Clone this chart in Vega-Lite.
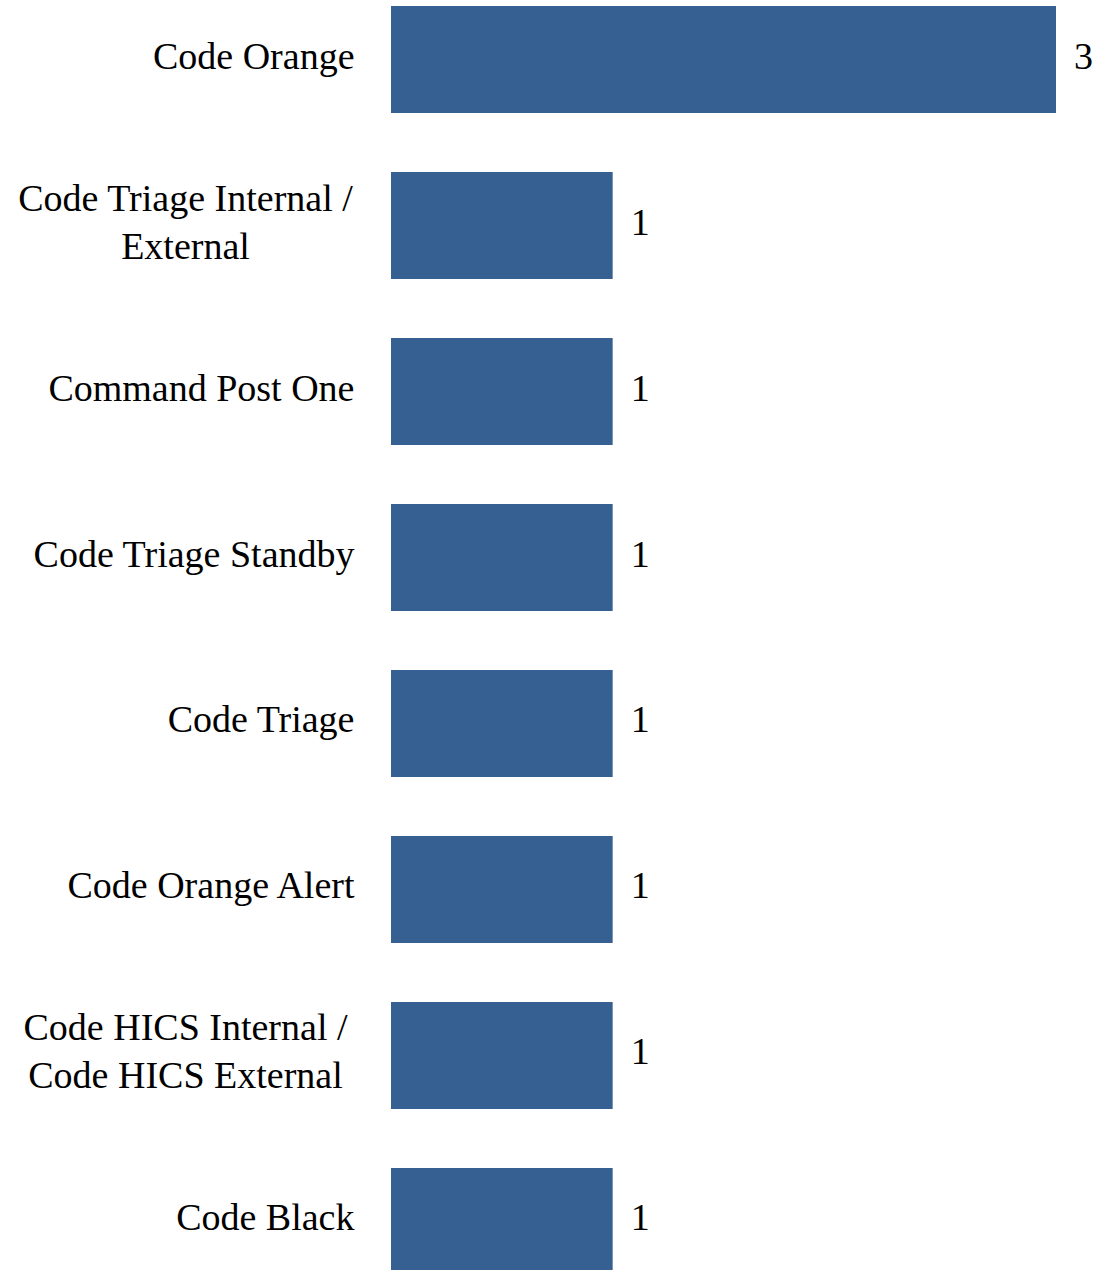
{
  "$schema": "https://vega.github.io/schema/vega-lite/v6.json",
  "autosize": {"type": "none"},
  "padding": {"left": 391, "top": 0, "right": 41, "bottom": 0},
  "width": 665,
  "height": 1281,
  "background": "white",
  "data": {
    "values": [
      {"label": "Code Orange", "count": 3},
      {"label": "Code Triage Internal /|External", "count": 1},
      {"label": "Command Post One", "count": 1},
      {"label": "Code Triage Standby", "count": 1},
      {"label": "Code Triage", "count": 1},
      {"label": "Code Orange Alert", "count": 1},
      {"label": "Code HICS Internal /|Code HICS External", "count": 1},
      {"label": "Code Black", "count": 1}
    ]
  },
  "encoding": {
    "y": {
      "field": "label",
      "type": "nominal",
      "sort": null,
      "scale": {"paddingInner": 0.355, "paddingOuter": 0.036},
      "axis": {
        "title": null,
        "domain": false,
        "ticks": false,
        "labelPadding": {"condition": {"test": "indexof(datum.value, '|') >= 0", "value": 206}, "value": 37},
        "labelAlign": {"condition": {"test": "indexof(datum.value, '|') >= 0", "value": "center"}, "value": "right"},
        "labelOffset": {"condition": {"test": "indexof(datum.value, '|') >= 0", "value": -26}, "value": -2},
        "labelFont": "Liberation Serif",
        "labelFontSize": 38,
        "labelColor": "black",
        "labelLimit": 0,
        "labelLineHeight": 48,
        "labelExpr": "split(datum.label, '|')"
      }
    },
    "x": {
      "field": "count",
      "type": "quantitative",
      "scale": {"domain": [0, 3], "nice": false},
      "axis": null
    }
  },
  "layer": [
    {"mark": {"type": "bar", "color": "#376092"}},
    {
      "mark": {"type": "text", "align": "left", "baseline": "middle", "dx": 18, "dy": -2, "font": "Liberation Serif", "fontSize": 38, "color": "black"},
      "encoding": {"text": {"field": "count", "type": "quantitative"}}
    }
  ],
  "config": {"view": {"stroke": null}}
}
